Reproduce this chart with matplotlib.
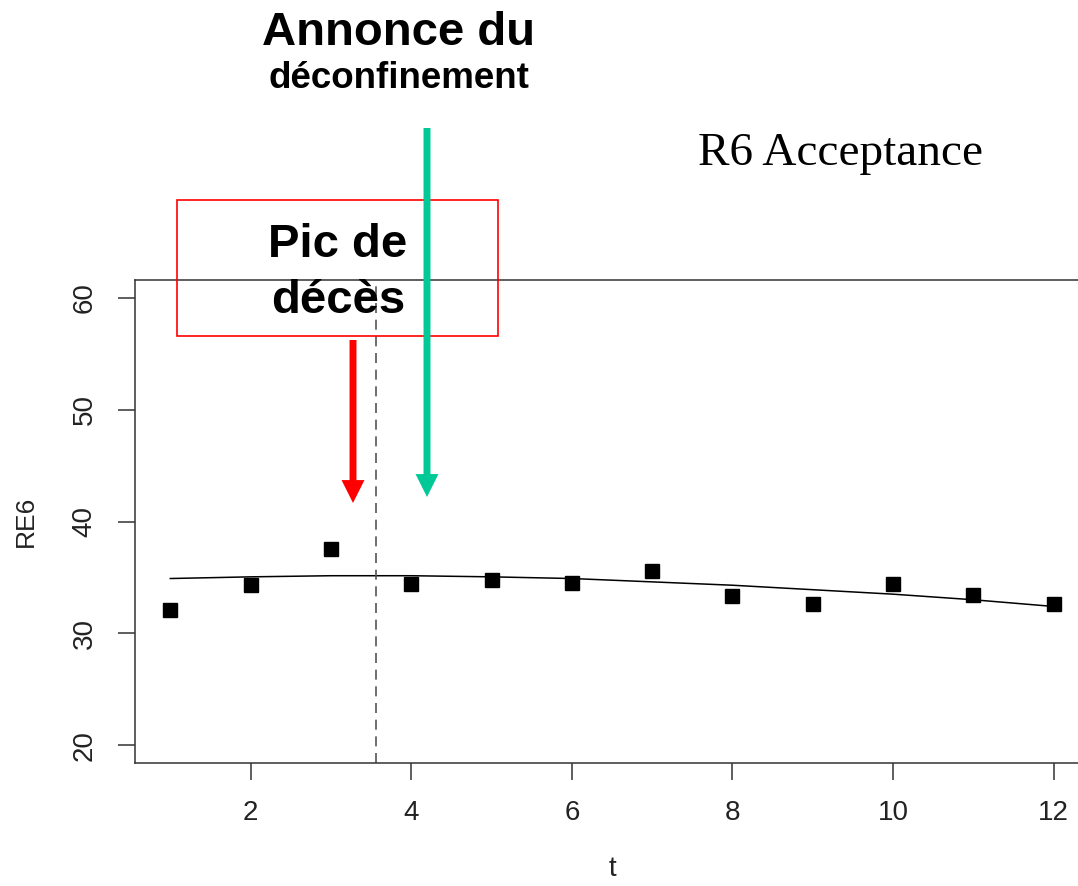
import matplotlib
matplotlib.use('Agg')
import matplotlib.pyplot as plt
from matplotlib.patches import Rectangle

# données
t = [1, 2, 3, 4, 5, 6, 7, 8, 9, 10, 11, 12]
re6 = [32.1, 34.35, 37.55, 34.4, 34.8, 34.5, 35.6, 33.3, 32.65, 34.4, 33.45, 32.65]
courbe = [34.9, 35.05, 35.15, 35.15, 35.05, 34.9, 34.6, 34.3, 33.9, 33.5, 33.0, 32.4]
t_pic = 3.565
x_ticks = [2, 4, 6, 8, 10, 12]
y_ticks = [20, 30, 40, 50, 60]

W, H = 1078, 886
fig = plt.figure(figsize=(W / 100, H / 100), dpi=100)
plt.rcParams['font.family'] = ['Liberation Sans', 'DejaVu Sans']

# axe principal (le bord droit sort de l'image, comme sur l'original)
ax = fig.add_axes([135 / W, (H - 763) / H, (1089 - 135) / W, (763 - 280) / H])
ax.plot(t, re6, linestyle='none', marker='s', markersize=9.5, color='black')
ax.plot(t, courbe, color='black', lw=1.1)
ax.axvline(t_pic, color='#555555', lw=1.2, linestyle=(0, (6, 4)))

ax.set_xlim(0.56, 12.44)
ax.set_ylim(18.4, 61.6)
ax.set_xticks(x_ticks)
ax.set_yticks(y_ticks)
ax.set_yticklabels([str(v) for v in y_ticks], rotation=90, va='center')
ax.tick_params(direction='out', length=12, width=1.1, color='#333333',
               labelsize=20, labelcolor='#222222')
ax.tick_params(axis='x', pad=15)
ax.tick_params(axis='y', pad=15)
for s in ['left', 'bottom', 'top']:
    ax.spines[s].set_color('#333333')
    ax.spines[s].set_linewidth(1.1)
ax.spines['right'].set_visible(False)
ax.set_xlabel('t', fontsize=20, color='#222222', labelpad=21)
ax.set_ylabel('RE6', fontsize=19, color='#222222', labelpad=24)

# calque d'annotations en pixels
ov = fig.add_axes([0, 0, 1, 1], zorder=5)
ov.set_xlim(0, W)
ov.set_ylim(H, 0)
ov.axis('off')

ov.text(398, 45, 'Annonce du', fontsize=34, fontweight='bold', ha='center', va='baseline')
ov.text(399, 88, 'déconfinement', fontsize=26.5, fontweight='bold', ha='center', va='baseline')
ov.text(840, 165, 'R6 Acceptance', fontsize=34, family=['Liberation Serif', 'DejaVu Serif'],
        ha='center', va='baseline')

ov.add_patch(Rectangle((177, 200), 321, 136, fill=False, edgecolor='red', lw=1.2))
ov.text(338, 257, 'Pic de', fontsize=34, fontweight='bold', ha='center', va='baseline')
ov.text(338, 313, 'décès', fontsize=34, fontweight='bold', ha='center', va='baseline')

ov.annotate('', xy=(353, 503), xytext=(353, 340),
            arrowprops=dict(arrowstyle='simple,head_length=16.5,head_width=16.5,tail_width=5',
                            mutation_scale=1, color='#FF0000', lw=0, shrinkA=0, shrinkB=0))
ov.annotate('', xy=(427, 497), xytext=(427, 128),
            arrowprops=dict(arrowstyle='simple,head_length=16.5,head_width=16.5,tail_width=5',
                            mutation_scale=1, color='#00C896', lw=0, shrinkA=0, shrinkB=0))

fig.savefig('out.png', dpi=100)
